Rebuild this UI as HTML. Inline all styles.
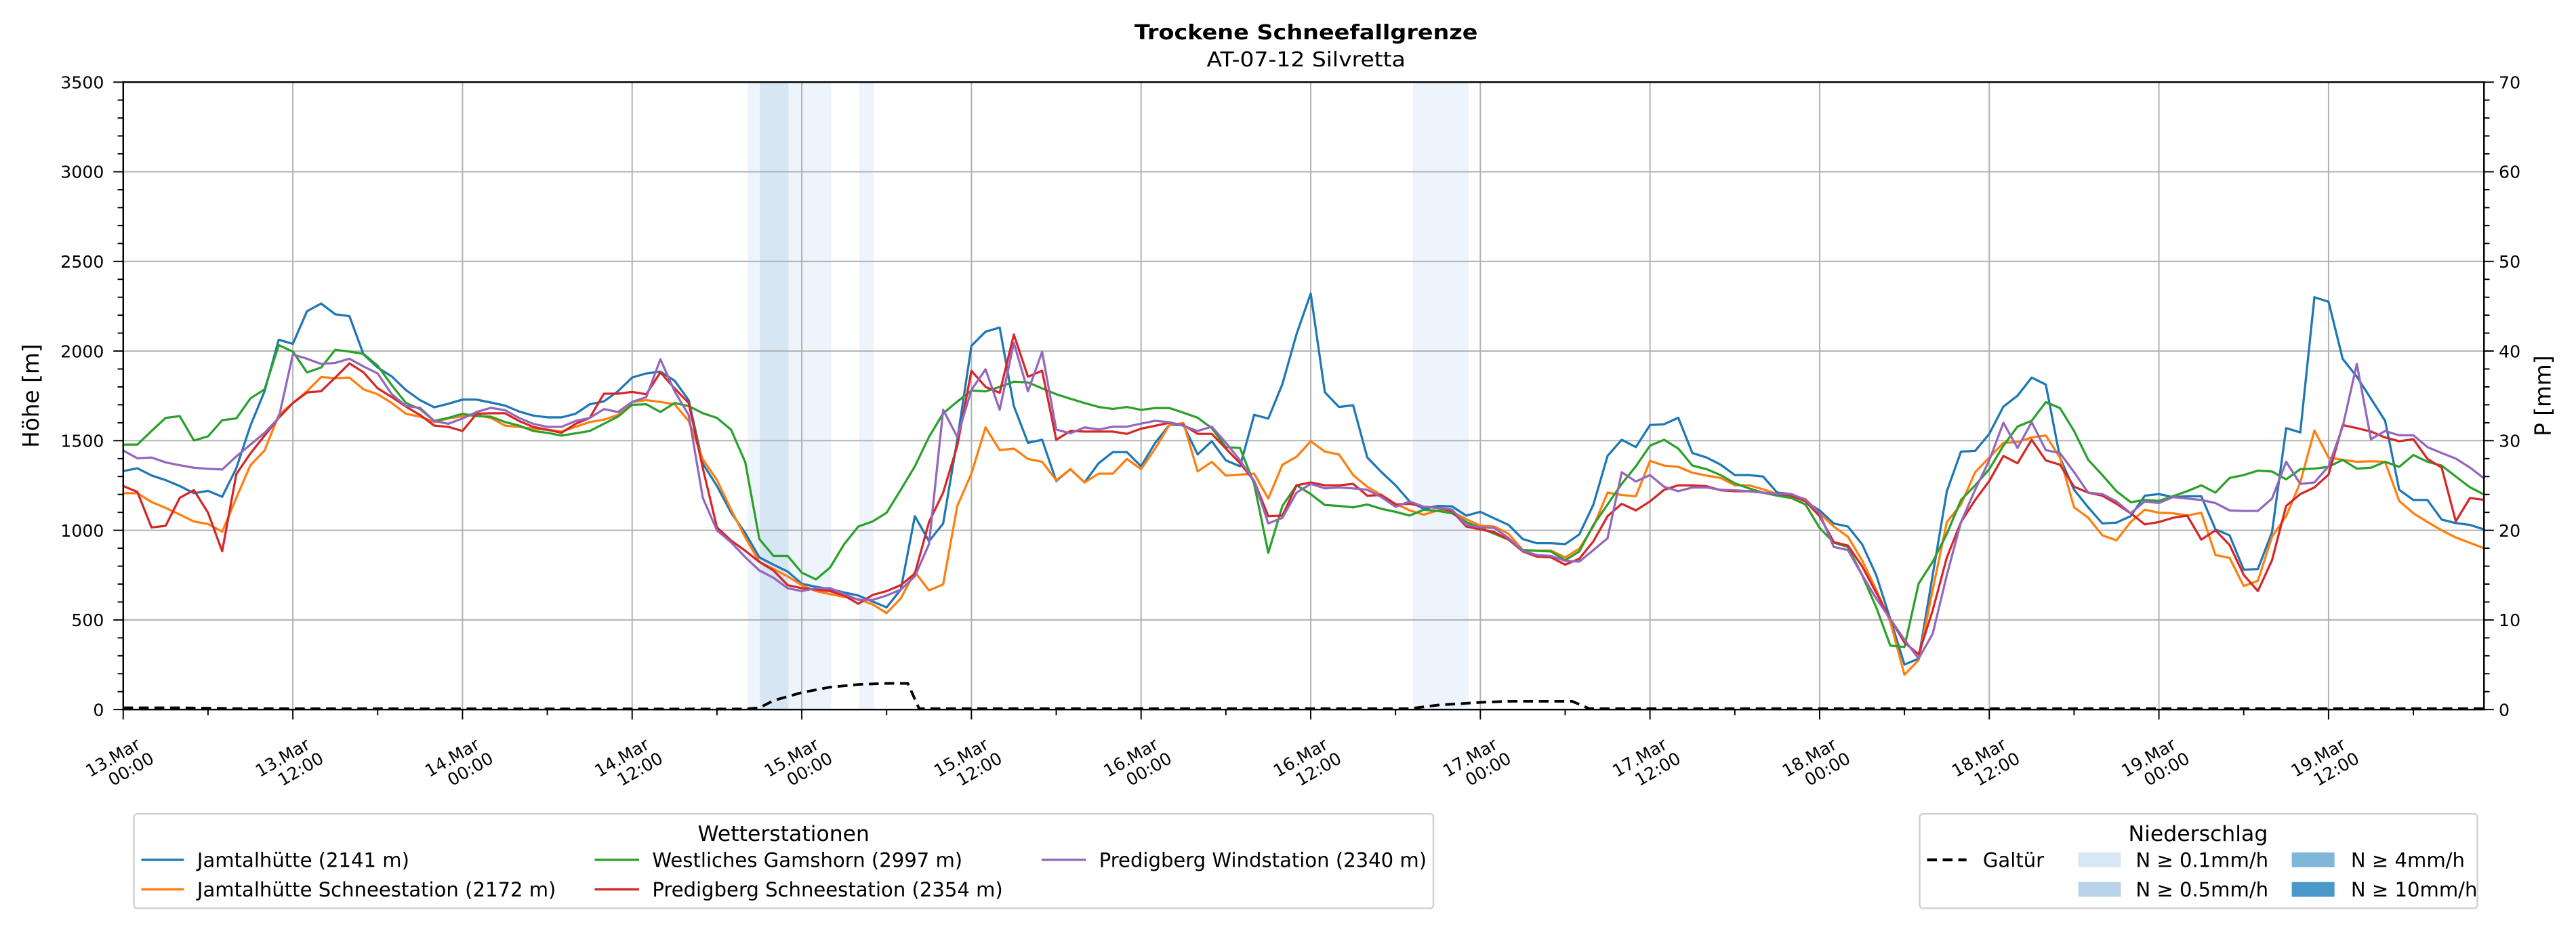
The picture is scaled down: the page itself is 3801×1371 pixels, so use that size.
<!DOCTYPE html>
<html><head><meta charset="utf-8"><style>
html,body{margin:0;padding:0;background:#fff;}
svg{display:block;}
text{font-family:"DejaVu Sans","Liberation Sans",sans-serif;fill:#000;}
</style></head><body>
<svg id="s" width="3801" height="1371" viewBox="0 0 1568 565.6" preserveAspectRatio="none" xmlns="http://www.w3.org/2000/svg">
<rect x="0" y="0" width="1568" height="566" fill="#fff"/>
<g id="bands">
<rect x="455" y="50" width="7.5" height="382" fill="#eef4fb"/>
<rect x="462.5" y="50" width="17.5" height="382" fill="#d7e6f3"/>
<rect x="480" y="50" width="26" height="382" fill="#eef4fb"/>
<rect x="523" y="50" width="9" height="382" fill="#eef4fb"/>
<rect x="860" y="50" width="34" height="382" fill="#eef4fb"/>
</g>
<g id="grid" stroke="#b0b0b0" stroke-width="0.8"></g>
<g id="series" fill="none" stroke-width="1.35" stroke-linejoin="round"></g>
<rect x="75" y="50" width="1437" height="382" fill="none" stroke="#000" stroke-width="1"/>
<g id="ticks" stroke="#000" stroke-width="0.8"></g>
<g id="labels" font-size="10.4"></g>
<text x="795" y="24" font-size="12.5" font-weight="bold" text-anchor="middle" textLength="209" lengthAdjust="spacingAndGlyphs">Trockene Schneefallgrenze</text>
<text x="795" y="40.5" font-size="12.5" text-anchor="middle" textLength="121" lengthAdjust="spacingAndGlyphs">AT-07-12 Silvretta</text>
<text transform="translate(23.5,241) rotate(-90)" font-size="13.5" text-anchor="middle">Höhe [m]</text>
<text transform="translate(1552.5,241) rotate(-90)" font-size="13.5" text-anchor="middle">P [mm]</text>
<rect x="81.5" y="495.5" width="791" height="57.5" rx="2" fill="#fff" stroke="#d0d0d0" stroke-width="1"/>
<text x="477" y="512" font-size="13" text-anchor="middle">Wetterstationen</text>
<g stroke-width="1.4">
<line x1="86" y1="523.5" x2="112" y2="523.5" stroke="#1f77b4"/>
<line x1="86" y1="541.5" x2="112" y2="541.5" stroke="#ff7f0e"/>
<line x1="362" y1="523.5" x2="389" y2="523.5" stroke="#2ca02c"/>
<line x1="362" y1="541.5" x2="389" y2="541.5" stroke="#d62728"/>
<line x1="634" y1="523.5" x2="661" y2="523.5" stroke="#9467bd"/>
</g>
<g font-size="12">
<text x="120" y="527.8">Jamtalhütte (2141 m)</text>
<text x="120" y="545.8">Jamtalhütte Schneestation (2172 m)</text>
<text x="397" y="527.8">Westliches Gamshorn (2997 m)</text>
<text x="397" y="545.8">Predigberg Schneestation (2354 m)</text>
<text x="669" y="527.8">Predigberg Windstation (2340 m)</text>
</g>
<rect x="1168.5" y="495.5" width="339.5" height="57.5" rx="2" fill="#fff" stroke="#d0d0d0" stroke-width="1"/>
<text x="1338" y="512" font-size="13" text-anchor="middle">Niederschlag</text>
<line x1="1173" y1="523.5" x2="1197" y2="523.5" stroke="#000" stroke-width="1.8" stroke-dasharray="6,3.5"/>
<rect x="1265" y="519" width="26" height="9" fill="#d8e7f5"/>
<rect x="1265" y="537" width="26" height="9" fill="#b9d4ea"/>
<rect x="1395" y="519" width="26" height="9" fill="#80b7d9"/>
<rect x="1395" y="537" width="26" height="9" fill="#4a98c9"/>
<g font-size="12">
<text x="1207" y="527.8">Galtür</text>
<text x="1300" y="527.8">N ≥ 0.1mm/h</text>
<text x="1300" y="545.8">N ≥ 0.5mm/h</text>
<text x="1431" y="527.8">N ≥ 4mm/h</text>
<text x="1431" y="545.8">N ≥ 10mm/h</text>
</g>
</svg>
<script>
var NS="http://www.w3.org/2000/svg";
function X(h){return 75+h*8.605;}
function Y(v){return 432-v*0.10914;}
function el(p,t,a){var e=document.createElementNS(NS,t);for(var k in a)e.setAttribute(k,a[k]);document.getElementById(p).appendChild(e);return e;}
for(var i=1;i<=13;i++){var x=X(i*12);el("grid","line",{x1:x,y1:50,x2:x,y2:432});}
for(var v=500;v<=3000;v+=500){el("grid","line",{x1:75,y1:Y(v),x2:1512,y2:Y(v)});}
for(var i=0;i<=13;i++){var x=X(i*12);el("ticks","line",{x1:x,y1:432,x2:x,y2:438});}
for(var i=0;i<28;i++){var x=X(i*6);if(i%2)el("ticks","line",{x1:x,y1:432,x2:x,y2:435.4});}
for(var v=0;v<=3500;v+=100){var y=Y(v),L=(v%500==0)?6:3.4;el("ticks","line",{x1:75-L,y1:y,x2:75,y2:y});el("ticks","line",{x1:1512,y1:y,x2:1512+L,y2:y});}
for(var v=0;v<=3500;v+=500){var t=el("labels","text",{x:63.3,y:Y(v)+3.8,"text-anchor":"end"});t.textContent=v;
 var t2=el("labels","text",{x:1521,y:Y(v)+3.8});t2.textContent=(v/50);}
var days=["13","13","14","14","15","15","16","16","17","17","18","18","19","19"];
for(var i=0;i<=13;i++){var x=X(i*12);var g=el("labels","g",{transform:"translate("+(x+4.2)+",459.3) rotate(-30)"});
 var a=document.createElementNS(NS,"text");a.setAttribute("x",-10);a.setAttribute("y",0);a.setAttribute("text-anchor","middle");a.textContent=days[i]+".Mar";g.appendChild(a);
 var b=document.createElementNS(NS,"text");b.setAttribute("x",-4);b.setAttribute("y",11.6);b.setAttribute("text-anchor","middle");b.textContent=(i%2?"12:00":"00:00");g.appendChild(b);}
function arr(s){return s.trim().split(/\s+/).map(Number);}
var blue=arr("1330 1346 1306 1280 1247 1207 1220 1187 1346 1584 1776 2063 2040 2222 2265 2205 2195 1981 1908 1858 1782 1726 1686 1706 1729 1729 1713 1696 1663 1640 1630 1630 1650 1703 1719 1776 1852 1875 1885 1835 1726 1372 1247 1098 985 849 808 770 702 685 672 653 636 603 570 669 1079 939 1038 1505 2029 2108 2131 1693 1488 1505 1275 1341 1267 1374 1436 1436 1357 1488 1587 1587 1423 1497 1390 1357 1644 1623 1816 2095 2321 1770 1688 1698 1407 1325 1251 1161 1120 1136 1133 1082 1103 1066 1030 951 928 928 923 977 1144 1415 1505 1464 1587 1592 1628 1431 1406 1366 1308 1308 1300 1210 1202 1161 1111 1038 1021 923 751 505 251 284 751 1218 1439 1443 1538 1690 1751 1852 1813 1406 1226 1128 1038 1043 1079 1193 1202 1185 1190 1190 1005 972 780 784 989 1570 1546 2300 2275 1956 1857 1734 1611 1226 1169 1169 1060 1040 1030 1005 985");
var orange=arr("1207 1207 1158 1125 1088 1049 1035 992 1181 1363 1445 1643 1710 1776 1855 1848 1852 1786 1759 1710 1650 1634 1604 1624 1637 1643 1627 1584 1577 1567 1561 1551 1577 1604 1617 1643 1716 1726 1716 1703 1610 1396 1280 1115 960 824 784 743 694 661 644 628 616 587 538 620 767 665 698 1136 1316 1574 1447 1456 1398 1382 1279 1341 1267 1316 1316 1398 1341 1456 1587 1598 1328 1382 1305 1311 1316 1177 1366 1410 1497 1439 1423 1308 1243 1197 1148 1111 1087 1111 1103 1062 1026 1021 980 890 887 887 849 898 1021 1210 1197 1190 1387 1361 1354 1321 1305 1292 1251 1251 1229 1202 1197 1174 1095 1021 964 833 669 489 194 276 669 1046 1144 1324 1406 1488 1492 1518 1529 1406 1128 1070 972 944 1046 1115 1098 1095 1082 1098 862 846 689 718 964 1079 1267 1557 1406 1393 1382 1385 1382 1164 1095 1046 1000 960 930 900 880");
var red=arr("1247 1214 1016 1025 1181 1224 1098 883 1313 1429 1528 1627 1710 1769 1776 1852 1931 1881 1792 1743 1690 1643 1584 1577 1554 1650 1653 1653 1610 1577 1561 1544 1594 1627 1762 1762 1772 1759 1881 1792 1710 1346 1016 943 886 824 776 694 677 669 661 636 590 639 661 694 759 1046 1210 1472 1890 1800 1767 2092 1857 1890 1505 1554 1551 1551 1551 1538 1567 1583 1600 1587 1538 1538 1456 1374 1275 1079 1082 1251 1267 1251 1251 1259 1193 1197 1144 1148 1131 1125 1108 1021 1005 989 948 882 853 849 808 841 939 1079 1148 1111 1161 1226 1251 1251 1246 1223 1218 1218 1210 1202 1193 1161 1079 934 915 800 652 505 374 308 554 849 1046 1169 1275 1415 1374 1505 1390 1366 1243 1210 1193 1148 1095 1033 1046 1070 1082 948 1000 918 751 661 833 1136 1202 1239 1311 1587 1570 1551 1518 1497 1508 1398 1350 1050 1180 1170 1160");
var purple=arr("1445 1402 1406 1379 1363 1349 1343 1339 1412 1478 1544 1627 1981 1957 1928 1934 1957 1914 1875 1759 1693 1683 1610 1594 1624 1660 1683 1670 1627 1594 1577 1577 1610 1627 1676 1660 1716 1743 1954 1776 1643 1181 999 933 850 776 735 677 661 677 677 644 612 612 636 669 743 923 1672 1521 1783 1898 1672 2046 1775 1996 1562 1541 1574 1562 1578 1578 1595 1611 1603 1583 1554 1578 1488 1390 1275 1038 1070 1210 1259 1234 1239 1234 1226 1185 1131 1161 1131 1125 1115 1030 1016 1013 956 885 862 857 830 825 890 956 1324 1272 1308 1243 1218 1239 1239 1226 1223 1218 1210 1202 1202 1169 1095 907 890 751 620 505 390 284 423 751 1046 1226 1390 1600 1459 1603 1447 1431 1324 1210 1202 1161 1095 1161 1152 1185 1177 1169 1152 1111 1108 1108 1177 1382 1259 1267 1357 1578 1928 1508 1554 1530 1530 1464 1431 1400 1350 1290 1270");
var green=arr("1478 1478 1554 1627 1637 1501 1524 1614 1624 1736 1786 2033 1997 1881 1908 2007 1997 1984 1918 1809 1710 1676 1610 1627 1650 1637 1634 1604 1584 1554 1544 1528 1541 1554 1594 1634 1700 1703 1660 1710 1693 1653 1627 1561 1380 951 857 857 764 726 792 923 1021 1049 1098 1226 1357 1521 1652 1718 1780 1775 1800 1829 1825 1792 1759 1734 1710 1688 1677 1688 1672 1682 1682 1656 1628 1570 1464 1459 1259 874 1136 1251 1202 1141 1136 1128 1144 1120 1103 1082 1115 1108 1095 1046 1013 980 948 890 885 882 833 882 1030 1144 1259 1357 1472 1505 1456 1361 1341 1308 1262 1234 1210 1193 1180 1144 1013 931 907 751 571 357 349 702 825 980 1169 1251 1341 1472 1579 1611 1715 1682 1554 1393 1308 1218 1157 1169 1164 1190 1218 1251 1210 1292 1308 1333 1328 1284 1341 1344 1354 1393 1344 1349 1382 1354 1420 1382 1361 1300 1240 1200 1180");
function line(d,c){var p="";for(var i=0;i<d.length&&i<=167;i++){p+=(i?"L":"M")+X(i).toFixed(2)+","+Y(d[i]).toFixed(2);}el("series","path",{d:p,stroke:c});}
line(blue,"#1f77b4");line(orange,"#ff7f0e");line(green,"#2ca02c");line(red,"#d62728");line(purple,"#9467bd");
var gal=[[0,10],[4,10],[8,5],[44,3],[45,10],[46,50],[48,95],[50,125],[52,140],[54,146],[55.5,146],[56.3,5],[91,5],[93,25],[96,40],[98,46],[102.5,46],[103.7,5],[167,5]];
var p="";gal.forEach(function(q,i){p+=(i?"L":"M")+X(q[0]).toFixed(2)+","+Y(q[1]).toFixed(2);});
el("series","path",{d:p,stroke:"#000","stroke-width":1.6,"stroke-dasharray":"6,3.5"});
</script>
</body></html>
